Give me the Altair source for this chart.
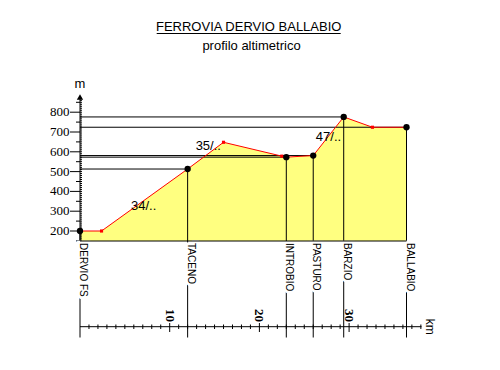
import altair as alt
import pandas as pd

# ---- data ----
stations = ["DERVIO FS", "TACENO", "INTROBIO", "PASTURO", "BARZIO", "BALLABIO"]
station_km = [0.0, 12.0, 23.0, 26.0, 29.4, 36.4]
station_alt = [200, 513, 573, 581, 776, 724]

profile_km = [0.0, 2.4, 12.0, 16.0, 22.5, 23.0, 26.0, 29.4, 32.6, 36.4]
profile_alt = [200, 200, 513, 648, 578, 573, 581, 776, 724, 724]

bend_km = [2.4, 16.0, 22.5, 32.6]
bend_alt = [200, 648, 578, 724]

grade_labels = ["34/..", "35/..", "47/.."]
grade_km = [7.1, 14.3, 27.7]
grade_alt = [326, 629, 676]

y_tick_labels = [200, 300, 400, 500, 600, 700, 800]
km_tick_labels = [10, 20, 30]
km_end = 38

title_text = "FERROVIA DERVIO BALLABIO"
subtitle_text = "profilo altimetrico"

# ---- layout (scale geometry) ----
W, H = 484, 354
PX_KM = 8.97           # pixels per km
PX_M = 0.198           # pixels per metre
X0 = 72                # plot x of km 0
Y200 = 223             # plot y of 200 m


def km_at(px):         # page x -> km
    return (px - 8 - X0) / PX_KM


def m_at(py):          # page y -> metres
    return 200 + (Y200 - (py - 8)) / PX_M


x_dom = [-X0 / PX_KM, (W - X0) / PX_KM]
y_dom = [200 - (H - Y200) / PX_M, 200 + Y200 / PX_M]
xs = alt.Scale(domain=x_dom, nice=False, zero=False)
ys = alt.Scale(domain=y_dom, nice=False, zero=False)

BASE = m_at(241)
AXIS = m_at(326.7)
BOTTOM = m_at(337.5)
LABEL_TOP = m_at(243)
ARROW = m_at(97)

FONT = "Liberation Sans"
NARROW = "Liberation Sans Narrow"


def X(f):
    return alt.X(f, type="quantitative", scale=xs, axis=None)


def Y(f):
    return alt.Y(f, type="quantitative", scale=ys, axis=None)


st = pd.DataFrame({"name": stations, "km": station_km, "alt": station_alt,
                   "zero": 0.0, "bottom": BOTTOM, "top": LABEL_TOP})
prof = pd.DataFrame({"km": profile_km, "alt": profile_alt, "base": BASE})
bends = pd.DataFrame({"km": bend_km, "alt": bend_alt})
grades = pd.DataFrame({"label": grade_labels, "km": grade_km, "alt": grade_alt})

layers = []

# yellow area
layers.append(alt.Chart(prof).mark_area(color="#FFFF80", opacity=1).encode(
    x=X("km"), y=Y("alt"), y2="base"))

# horizontal reference lines from the altitude axis to each station
layers.append(alt.Chart(st[st["km"] > 0]).mark_rule(color="black", strokeWidth=1).encode(
    x=X("zero"), x2="km", y=Y("alt")))

# vertical station lines down to the km axis
layers.append(alt.Chart(st).mark_rule(color="black", strokeWidth=1).encode(
    x=X("km"), y=Y("alt"), y2="bottom"))

# altitude axis line
layers.append(alt.Chart(pd.DataFrame({"x": [0.0], "a": [BASE], "b": [m_at(99)]}))
              .mark_rule(color="black").encode(x=X("x"), y=Y("a"), y2="b"))

# altitude ticks
fine = [v for v in range(160, 880, 10) if v % 50 != 0]
half = [v for v in range(150, 900, 100)]
major = y_tick_labels
for vals, x1, x2 in [(fine, 80, 82), (half, 76, 82), (major, 70, 82)]:
    d = pd.DataFrame({"v": vals, "a": km_at(x1), "b": km_at(x2)})
    layers.append(alt.Chart(d).mark_rule(color="black", strokeWidth=1).encode(
        x=X("a"), x2="b", y=Y("v")))

# altitude labels
layers.append(alt.Chart(pd.DataFrame({"v": y_tick_labels, "x": km_at(69.5)}))
              .mark_text(align="right", baseline="middle", font=[NARROW, FONT][0],
                         fontSize=13, color="black")
              .encode(x=X("x"), y=Y("v"), text=alt.Text("v:Q")))

# "m" unit and arrow
layers.append(alt.Chart(pd.DataFrame({"x": [0.0], "y": [m_at(87.5)], "t": ["m"]}))
              .mark_text(align="center", baseline="alphabetic", font=FONT, fontSize=13)
              .encode(x=X("x"), y=Y("y"), text="t"))
layers.append(alt.Chart(pd.DataFrame({"x": [0.0], "y": [ARROW]}))
              .mark_point(shape="triangle-up", filled=True, size=40, color="black", opacity=1)
              .encode(x=X("x"), y=Y("y")))

# km axis
layers.append(alt.Chart(pd.DataFrame({"a": [0.0], "b": [km_at(421.5)], "y": [AXIS]}))
              .mark_rule(color="black").encode(x=X("a"), x2="b", y=Y("y")))
minor_km = [k for k in range(1, km_end + 1) if k not in km_tick_labels]
layers.append(alt.Chart(pd.DataFrame({"k": minor_km, "a": m_at(324.5), "b": m_at(329)}))
              .mark_rule(color="black").encode(x=X("k"), y=Y("a"), y2="b"))
layers.append(alt.Chart(pd.DataFrame({"k": km_tick_labels, "a": m_at(323), "b": m_at(332)}))
              .mark_rule(color="black").encode(x=X("k"), y=Y("a"), y2="b"))
layers.append(alt.Chart(pd.DataFrame({"k": km_tick_labels, "y": m_at(322)}))
              .mark_text(angle=90, align="right", baseline="middle", font=NARROW,
                         fontWeight="bold", fontSize=13, color="black")
              .encode(x=X("k"), y=Y("y"), text=alt.Text("k:Q")))
layers.append(alt.Chart(pd.DataFrame({"x": [km_at(426)], "y": [AXIS], "t": ["km"]}))
              .mark_text(angle=90, align="center", baseline="alphabetic", font=FONT, fontSize=12)
              .encode(x=X("x"), y=Y("y"), text="t"))

# station labels (white halo breaks the vertical lines)
layers.append(alt.Chart(st).mark_text(angle=90, align="left", baseline="alphabetic", font=FONT,
                                      fontSize=10, color="white", stroke="white", strokeWidth=6)
              .encode(x=X("km"), y=Y("top"), text="name"))

# base line of the profile
layers.append(alt.Chart(pd.DataFrame({"a": [0.0], "b": [station_km[-1]], "y": [BASE]}))
              .mark_rule(color="black").encode(x=X("a"), x2="b", y=Y("y")))

layers.append(alt.Chart(st).mark_text(angle=90, align="left", baseline="alphabetic", font=FONT,
                                      fontSize=10, color="black")
              .encode(x=X("km"), y=Y("top"), text="name"))

# red profile line, bends, stations
layers.append(alt.Chart(prof).mark_line(color="#FF0000", strokeWidth=1).encode(
    x=X("km"), y=Y("alt")))
layers.append(alt.Chart(bends).mark_square(color="#FF0000", size=10, opacity=1).encode(
    x=X("km"), y=Y("alt")))
layers.append(alt.Chart(st).mark_circle(color="black", size=40, opacity=1).encode(
    x=X("km"), y=Y("alt")))

# gradient labels
layers.append(alt.Chart(grades).mark_text(align="center", baseline="middle", font=FONT,
                                          fontSize=13, color="black")
              .encode(x=X("km"), y=Y("alt"), text="label"))

# titles
one = pd.DataFrame({"t": [title_text], "s": [subtitle_text]})
layers.append(alt.Chart(one).mark_text(align="center", baseline="alphabetic", font=FONT,
                                       fontSize=13, color="black")
              .encode(x=alt.value(240.7), y=alt.value(23), text="t"))
layers.append(alt.Chart(one).mark_rule(color="black").encode(
    x=alt.value(148.7), x2=alt.value(332.7), y=alt.value(25.5)))
layers.append(alt.Chart(one).mark_text(align="center", baseline="alphabetic", font=FONT,
                                       fontSize=13, color="black")
              .encode(x=alt.value(243.5), y=alt.value(42), text="s"))

chart = alt.layer(*layers).properties(
    width=W, height=H, padding=0, autosize=alt.AutoSizeParams(type="none"),
    background="white"
).configure_view(stroke=None)

chart.save("out.html", embed_options={"renderer": "svg", "actions": False})
